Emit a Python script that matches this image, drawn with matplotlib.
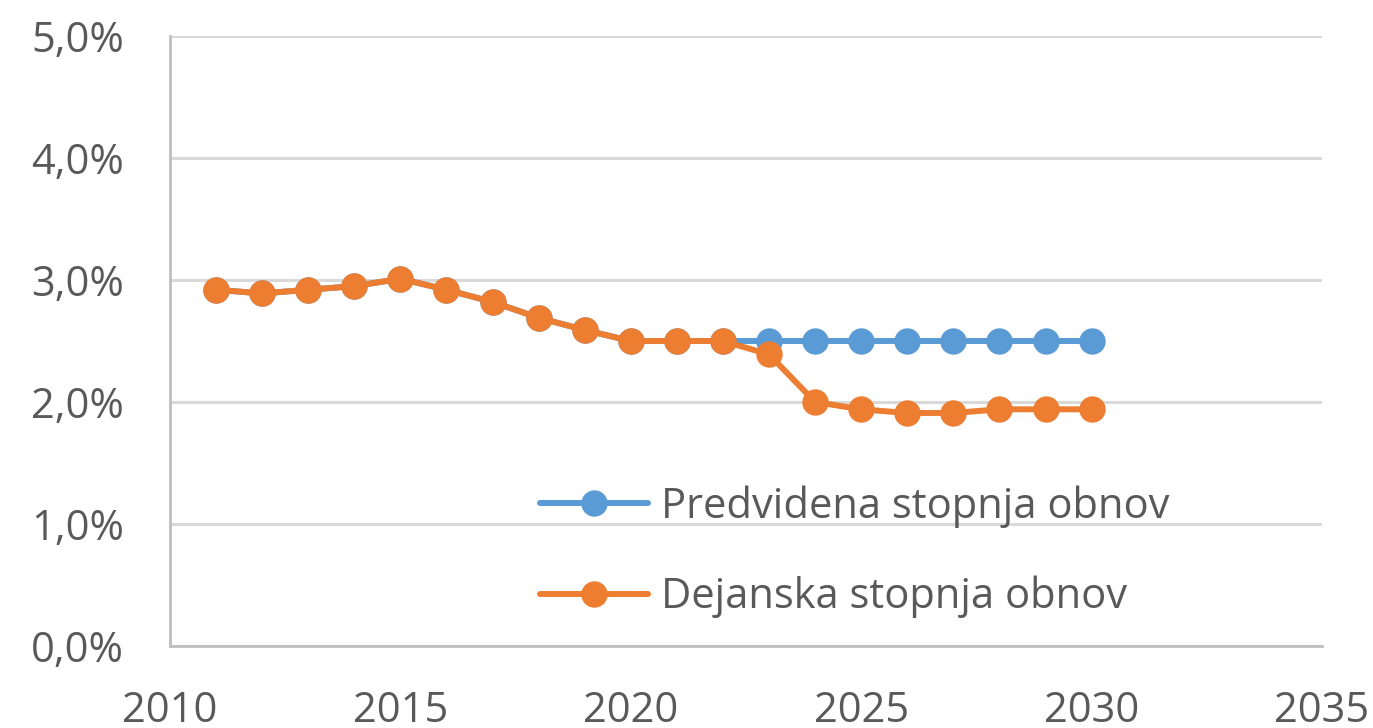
import matplotlib.pyplot as plt
from matplotlib.ticker import FuncFormatter

# Data
years = list(range(2011, 2031))
dejanska = [2.92, 2.89, 2.92, 2.95, 3.01, 2.92, 2.82, 2.69, 2.59, 2.50,
            2.50, 2.50, 2.39, 2.00, 1.94, 1.91, 1.91, 1.94, 1.94, 1.94]
predvidena = [2.92, 2.89, 2.92, 2.95, 3.01, 2.92, 2.82, 2.69, 2.59, 2.50,
              2.50, 2.50, 2.50, 2.50, 2.50, 2.50, 2.50, 2.50, 2.50, 2.50]
labels = ["Predvidena stopnja obnov", "Dejanska stopnja obnov"]

blue = "#5B9BD5"
orange = "#ED7D31"
text_col = "#595959"

plt.rcParams['font.family'] = ['Open Sans', 'DejaVu Sans']

fig = plt.figure(figsize=(13.73, 7.28), dpi=100)
ax = fig.add_axes([170 / 1373, 1 - 646 / 728, (1322 - 170) / 1373, (646 - 36) / 728])

ax.plot(years, [v / 100 for v in predvidena], color=blue, lw=4.3, marker="o",
        markersize=18, label=labels[0], solid_capstyle="round", zorder=3)
ax.plot(years, [v / 100 for v in dejanska], color=orange, lw=4.3, marker="o",
        markersize=18, label=labels[1], solid_capstyle="round", zorder=4)

ax.set_xlim(2010, 2035)
ax.set_ylim(0, 0.05)
ax.set_xticks(range(2010, 2036, 5))
ax.set_yticks([0, 0.01, 0.02, 0.03, 0.04, 0.05])
ax.yaxis.set_major_formatter(FuncFormatter(lambda v, p: f"{v * 100:.1f}%".replace(".", ",")))

ax.grid(axis="y", color="#D9D9D9", lw=2.2)
ax.set_axisbelow(True)
for s in ["top", "right"]:
    ax.spines[s].set_visible(False)
for s in ["left", "bottom"]:
    ax.spines[s].set_color("#BFBFBF")
    ax.spines[s].set_linewidth(2)
    ax.spines[s].set_zorder(1)

ax.tick_params(axis="both", length=0, labelsize=30, colors=text_col)
ax.tick_params(axis="y", pad=33)
ax.tick_params(axis="x", pad=32)

leg = ax.legend(loc="center left", bbox_to_anchor=(540 / 1373, 1 - 552 / 728),
                bbox_transform=fig.transFigure, frameon=False, fontsize=30,
                handlelength=2.6, handletextpad=0.3, labelspacing=1.15,
                borderpad=0, borderaxespad=0)
for t in leg.get_texts():
    t.set_color(text_col)

fig.savefig("out.png", dpi=100)
